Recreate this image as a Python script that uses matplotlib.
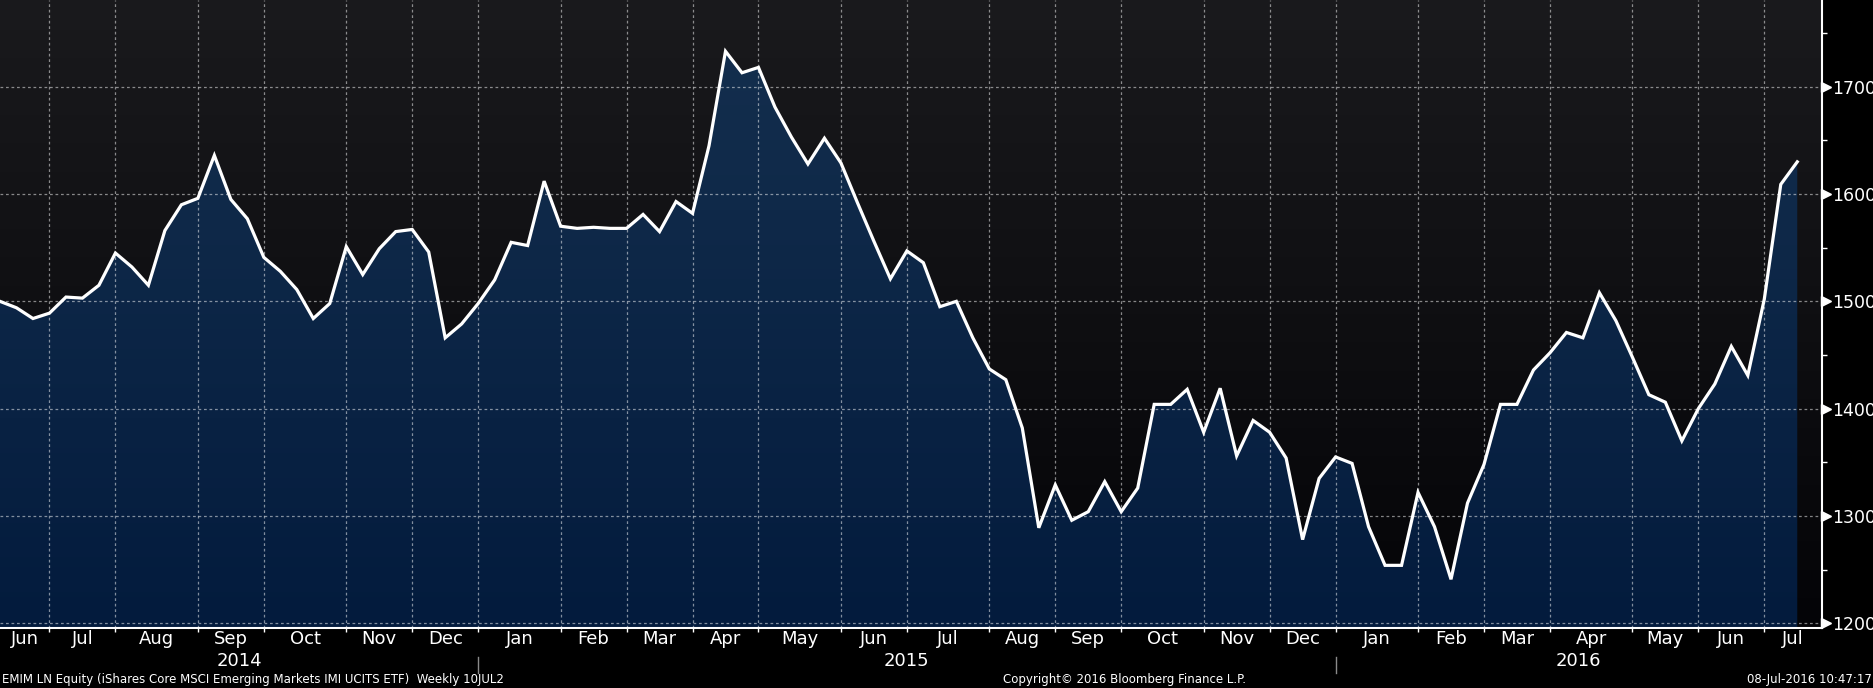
import numpy as np
import pandas as pd
import matplotlib
matplotlib.use("Agg")
import matplotlib.pyplot as plt
import matplotlib.transforms as mtrans
from matplotlib.patches import Polygon
from matplotlib.colors import LinearSegmentedColormap

# ---- data (weekly closes) ----
start_date = "2014-06-13"
values = [1500, 1494, 1484, 1489, 1504, 1503, 1515, 1545, 1532, 1515,
          1566, 1590, 1596, 1636, 1595, 1577, 1541, 1528, 1511, 1484,
          1498, 1551, 1525, 1549, 1565, 1567, 1546, 1466, 1479, 1498,
          1520, 1555, 1552, 1612, 1570, 1568, 1569, 1568, 1568, 1581,
          1565, 1593, 1582, 1645, 1733, 1713, 1718, 1681, 1653, 1628,
          1652, 1629, 1592, 1556, 1521, 1547, 1536, 1495, 1500, 1466,
          1437, 1427, 1382, 1289, 1329, 1296, 1304, 1332, 1304, 1326,
          1404, 1404, 1418, 1378, 1419, 1356, 1389, 1378, 1354, 1278,
          1335, 1355, 1349, 1290, 1254, 1254, 1322, 1290, 1241, 1312,
          1348, 1404, 1404, 1436, 1452, 1471, 1466, 1508, 1482, 1448,
          1413, 1406, 1370, 1400, 1423, 1458, 1431, 1502, 1609, 1630]
y_major = [1200, 1300, 1400, 1500, 1600, 1700]
y_minor = [1250, 1350, 1450, 1550, 1650, 1750]
footer_left = "EMIM LN Equity (iShares Core MSCI Emerging Markets IMI UCITS ETF)  Weekly 10JUL2"
footer_mid = "Copyright\u00a9 2016 Bloomberg Finance L.P."
footer_right = "08-Jul-2016 10:47:17"

dates = pd.date_range(start_date, periods=len(values), freq="W-FRI")
x = np.arange(len(values))

W, H = 1874, 688
fig = plt.figure(figsize=(W / 100, H / 100), dpi=100, facecolor="black")
ax = fig.add_axes([0, 60.3 / H, 1822 / W, 627.7 / H])
ax.set_facecolor("black")

ymin, ymax = 1195.9, 1780.8
xmin, xmax = 0.0, 110.5
ax.set_xlim(xmin, xmax)
ax.set_ylim(ymin, ymax)

narrow = ["Liberation Sans Narrow", "DejaVu Sans"]

# background gradient
bg = LinearSegmentedColormap.from_list("bg", ["#040407", "#1a1a1d"])
grad = np.linspace(0, 1, 256).reshape(-1, 1)
ax.imshow(grad, cmap=bg, origin="lower", aspect="auto",
          extent=[xmin, xmax, ymin, ymax], zorder=0, interpolation="bicubic")

# filled area with gradient
fc = LinearSegmentedColormap.from_list("fc", ["#031b3d", "#15304f"])
verts = [(x[0], ymin)] + list(zip(x, values)) + [(x[-1], ymin)]
poly = Polygon(verts, closed=True, facecolor="none", edgecolor="none",
               transform=ax.transData)
ax.add_patch(poly)
im = ax.imshow(grad, cmap=fc, origin="lower", aspect="auto",
               extent=[xmin, xmax, ymin, ymax], zorder=1, interpolation="bicubic")
im.set_clip_path(poly)

# month ticks: first weekly point of each month
tick_idx = [i for i, d in enumerate(dates) if d.day <= 7]
tick_months = [dates[i].strftime("%b") for i in tick_idx]

# grid
for yv in y_major:
    ax.axhline(yv, color="white", alpha=0.5, lw=0.9, ls=(0, (2.2, 2.2)), zorder=2)
for xv in tick_idx:
    ax.axvline(xv, color="white", alpha=0.5, lw=0.9, ls=(0, (2.2, 2.2)), zorder=2)

# line
ax.plot(x, values, color="white", lw=2.3, zorder=4, solid_joinstyle="miter")

# spines
for s in ["top", "left"]:
    ax.spines[s].set_visible(False)
for s in ["bottom", "right"]:
    ax.spines[s].set_color("white")
    ax.spines[s].set_linewidth(1.5)
    ax.spines[s].set_zorder(5)

# y axis on the right
ax.yaxis.tick_right()
ax.set_yticks(y_major)
ax.set_yticks(y_minor, minor=True)
ax.tick_params(axis="y", which="major", length=0, pad=7.5, labelsize=12.5,
               labelcolor="white")
ax.tick_params(axis="y", which="minor", length=3.5, width=1, color="white",
               direction="out")
tr_y = mtrans.blended_transform_factory(ax.transAxes, ax.transData)
ax.plot([1.0024] * len(y_major), y_major, ls="none", marker=">", ms=6.5,
        color="white", transform=tr_y, clip_on=False, zorder=6)

# x ticks
ax.set_xticks(tick_idx)
ax.set_xticklabels([])
ax.tick_params(axis="x", which="major", length=3, width=1, color="white",
               direction="out")

tr_x = mtrans.blended_transform_factory(ax.transData, fig.transFigure)
bounds = [xmin] + tick_idx + [xmax]
labels = [dates[0].strftime("%b")] + tick_months
for k, lab in enumerate(labels):
    cx = 0.5 * (bounds[k] + bounds[k + 1])
    fig.text(cx, 48.5 / H, lab, transform=tr_x, ha="center", va="center",
             color="white", fontsize=13, family=narrow)

# years
jan_idx = [i for i in tick_idx if dates[i].month == 1]
ybounds = [xmin] + jan_idx + [xmax]
years = [dates[0].year] + [dates[i].year for i in jan_idx]
for k, yr in enumerate(years):
    cx = 0.5 * (ybounds[k] + ybounds[k + 1])
    fig.text(cx, 27.5 / H, str(yr), transform=tr_x, ha="center", va="center",
             color="white", fontsize=13, family=narrow)
for xv in jan_idx:
    fig.add_artist(plt.Line2D([xv, xv], [(H - 657) / H, (H - 673) / H],
                              transform=tr_x, color="#8a8a8a", lw=1))

# footer
fig.text(2 / W, 8 / H, footer_left, ha="left", va="center", color="white",
         fontsize=8.5, family=narrow)
fig.text(1125 / W, 8 / H, footer_mid, ha="center", va="center", color="white",
         fontsize=8.5, family=narrow)
fig.text(1872 / W, 8 / H, footer_right, ha="right", va="center", color="white",
         fontsize=8.5, family=narrow)

fig.savefig("out.png", dpi=100, facecolor="black")
